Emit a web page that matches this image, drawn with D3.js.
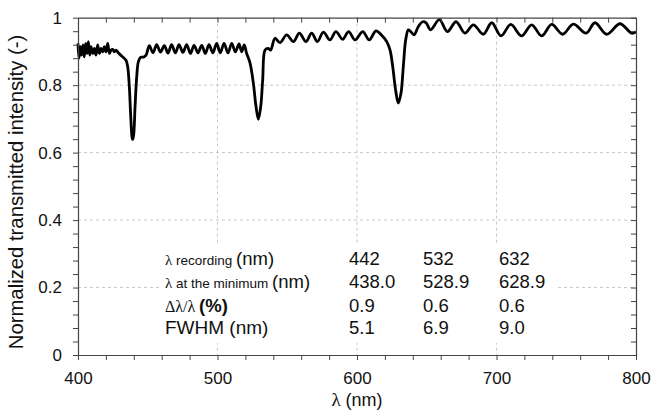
<!DOCTYPE html>
<html>
<head>
<meta charset="utf-8">
<script src="https://cdn.jsdelivr.net/npm/d3@7"></script>
<style>
  html, body { margin: 0; padding: 0; background: #fff; }
  svg { display: block; font-family: "Liberation Sans", Arial, sans-serif; }
  .greek { font-family: "Liberation Serif", "DejaVu Serif", serif; }
</style>
</head>
<body>
<svg id="chart" width="662" height="416"></svg>
<script>
// Transmission spectrum of the multiplexed grating (wavelength in nm, normalized intensity)
const wavelengthNm = [
  400.0, 400.7, 401.7, 402.6, 403.6, 404.5, 405.5, 406.5, 407.4, 408.4,
  409.3, 410.5, 411.7, 412.9, 414.1, 415.3, 416.5, 417.7, 418.9, 420.1,
  421.3, 422.5, 423.7, 424.9, 426.0, 427.2, 428.9, 430.6, 432.5, 434.4,
  435.6, 436.8, 437.7, 438.7, 439.2, 439.9, 440.9, 442.1, 443.3, 445.0,
  446.9, 448.8, 451.1, 453.8, 456.4, 459.1, 461.9, 464.5, 467.1, 469.8,
  472.4, 475.2, 477.9, 480.6, 483.2, 486.0, 488.7, 491.3, 493.9, 496.7,
  499.4, 502.0, 504.7, 507.5, 510.2, 512.8, 515.4, 517.3, 519.2, 520.9,
  523.3, 525.7, 527.6, 529.3, 531.0, 532.4, 534.1, 536.4, 538.1, 541.2,
  544.8, 549.6, 554.4, 558.7, 563.4, 567.5, 571.6, 575.9, 580.6, 584.9,
  589.7, 594.0, 598.6, 604.1, 608.8, 613.6, 617.7, 621.3, 623.7, 625.6,
  627.7, 629.6, 631.5, 633.2, 634.9, 636.8, 638.5, 640.9, 644.0, 647.1,
  649.5, 652.8, 659.0, 664.8, 671.0, 677.4, 683.4, 690.5, 696.6, 703.2,
  710.2, 718.0, 725.2, 732.4, 739.6, 747.4, 755.1, 764.2, 770.6, 779.0,
  788.5, 796.9, 800.0
];
const intensity = [
  0.924, 0.880, 0.914, 0.889, 0.919, 0.884, 0.924, 0.894, 0.929, 0.889,
  0.914, 0.894, 0.909, 0.889, 0.919, 0.894, 0.909, 0.899, 0.914, 0.899,
  0.924, 0.894, 0.904, 0.906, 0.899, 0.904, 0.896, 0.889, 0.882, 0.874,
  0.855, 0.795, 0.716, 0.647, 0.639, 0.652, 0.736, 0.825, 0.870, 0.883,
  0.883, 0.889, 0.917, 0.896, 0.920, 0.898, 0.917, 0.895, 0.920, 0.896,
  0.920, 0.897, 0.920, 0.894, 0.918, 0.896, 0.918, 0.894, 0.920, 0.896,
  0.924, 0.896, 0.924, 0.896, 0.924, 0.899, 0.922, 0.899, 0.919, 0.894,
  0.866, 0.806, 0.737, 0.699, 0.737, 0.816, 0.904, 0.909, 0.904, 0.939,
  0.926, 0.949, 0.929, 0.954, 0.929, 0.954, 0.929, 0.957, 0.934, 0.959,
  0.936, 0.959, 0.934, 0.959, 0.934, 0.961, 0.948, 0.929, 0.904, 0.855,
  0.785, 0.747, 0.775, 0.855, 0.934, 0.964, 0.959, 0.949, 0.974, 0.988,
  0.985, 0.964, 0.994, 0.959, 0.988, 0.954, 0.979, 0.951, 0.985, 0.946,
  0.980, 0.946, 0.979, 0.946, 0.980, 0.951, 0.981, 0.954, 0.985, 0.951,
  0.982, 0.954, 0.959
];

// Axis ticks
const xMajorTicks = [400, 500, 600, 700, 800];
const xMinorStep = 20;
const yMajorTicks = [0, 0.2, 0.4, 0.6, 0.8, 1];
const yMinorStep = 0.04;

// Summary table
const rowLabels = [
  [{ t: "λ", cls: "greek", s: 15 }, { t: " recording ", s: 13.5 }, { t: "(nm)", s: 18.5 }],
  [{ t: "λ", cls: "greek", s: 15 }, { t: " at the minimum ", s: 13.5 }, { t: "(nm)", s: 18.5 }],
  [{ t: "Δλ/λ", cls: "greek", s: 16 }, { t: " " , s: 13.5 }, { t: "(%)", s: 18.5, w: "bold" }],
  [{ t: "FWHM (nm)", s: 19 }]
];
const recordingNm = ["442", "532", "632"];
const minimumNm = ["438.0", "528.9", "628.9"];
const relShiftPct = ["0.9", "0.6", "0.6"];
const fwhmNm = ["5.1", "6.9", "9.0"];

const svg = d3.select("#chart");
const plot = { left: 78, right: 636, top: 17.7, bottom: 355 };

const x = d3.scaleLinear().domain([400, 800]).range([plot.left, plot.right]);
const y = d3.scaleLinear().domain([0, 1]).range([plot.bottom, plot.top]);

const xAll = d3.range(400, 800 + 1e-9, xMinorStep);
const yAll = d3.range(0, 26).map(i => +(i * yMinorStep).toFixed(2));

// Dashed grid at the interior major ticks
const grid = svg.append("g").attr("stroke", "#c8c8c8").attr("stroke-dasharray", "3,3").attr("stroke-width", 1);
xMajorTicks.filter(v => v > 400 && v < 800).forEach(v => {
  grid.append("line").attr("x1", x(v)).attr("x2", x(v)).attr("y1", plot.top).attr("y2", plot.bottom);
});
yMajorTicks.filter(v => v > 0 && v < 1).forEach(v => {
  grid.append("line").attr("x1", plot.left).attr("x2", plot.right).attr("y1", y(v)).attr("y2", y(v));
});

// White panel behind the table
svg.append("rect").attr("x", 160).attr("y", 245).attr("width", 397).attr("height", 98).attr("fill", "#fff");

// Spectrum
const line = d3.line()
  .x((d, i) => x(wavelengthNm[i]))
  .y((d, i) => y(intensity[i]))
  .curve(d3.curveCatmullRom.alpha(0.5));
svg.append("path")
  .datum(intensity)
  .attr("d", line)
  .attr("fill", "none")
  .attr("stroke", "#000")
  .attr("stroke-width", 2.8)
  .attr("stroke-linejoin", "round");

// Axes
const axisColor = "#444";
const xLabel = d => xMajorTicks.includes(Math.round(d)) ? String(Math.round(d)) : "";
const yLabel = d => {
  const k = Math.round(d * 100);
  return k % 20 === 0 ? String(k / 100) : "";
};

const gx = svg.append("g").attr("transform", `translate(0,${plot.bottom})`)
  .call(d3.axisBottom(x).tickValues(xAll).tickFormat(xLabel).tickSizeInner(5).tickSizeOuter(0).tickPadding(12));
const gy = svg.append("g").attr("transform", `translate(${plot.left},0)`)
  .call(d3.axisLeft(y).tickValues(yAll).tickFormat(yLabel).tickSizeInner(5).tickSizeOuter(0).tickPadding(11));
const gt = svg.append("g").attr("transform", `translate(0,${plot.top})`)
  .call(d3.axisTop(x).tickValues(xAll).tickFormat("").tickSizeInner(-5).tickSizeOuter(0));
const gr = svg.append("g").attr("transform", `translate(${plot.right},0)`)
  .call(d3.axisRight(y).tickValues(yAll).tickFormat("").tickSizeInner(-5).tickSizeOuter(0));

[gx, gy, gt, gr].forEach(g => {
  g.selectAll(".domain").attr("stroke", axisColor).attr("stroke-width", 1.2);
  g.selectAll(".tick line").attr("stroke", axisColor).attr("stroke-width", 1);
  g.selectAll("text").attr("fill", "#111").style("font-family", "'Liberation Sans', Arial, sans-serif").style("font-size", "17px");
});

// Axis titles
svg.append("text")
  .attr("x", x(600)).attr("y", 406)
  .attr("text-anchor", "middle")
  .attr("fill", "#111")
  .style("font-size", "18px")
  .call(t => {
    t.append("tspan").attr("class", "greek").style("font-size", "19px").text("λ");
    t.append("tspan").text(" (nm)");
  });

svg.append("text")
  .attr("transform", `translate(23,192) rotate(-90)`)
  .attr("text-anchor", "middle")
  .attr("fill", "#111")
  .style("font-size", "20.3px")
  .text("Normalized transmitted intensity (-)");

// Table
const rowY = [265, 288, 312, 334];
const colX = [349, 423, 499];
const rowValues = [recordingNm, minimumNm, relShiftPct, fwhmNm];
const table = svg.append("g").attr("fill", "#111");
rowLabels.forEach((parts, r) => {
  const t = table.append("text").attr("x", 165).attr("y", rowY[r]);
  parts.forEach(p => {
    const ts = t.append("tspan").text(p.t).style("font-size", p.s + "px");
    if (p.cls) ts.attr("class", p.cls);
    if (p.w) ts.style("font-weight", p.w);
  });
  rowValues[r].forEach((v, c) => {
    table.append("text").attr("x", colX[c]).attr("y", rowY[r]).style("font-size", "18.5px").text(v);
  });
});
</script>
</body>
</html>
